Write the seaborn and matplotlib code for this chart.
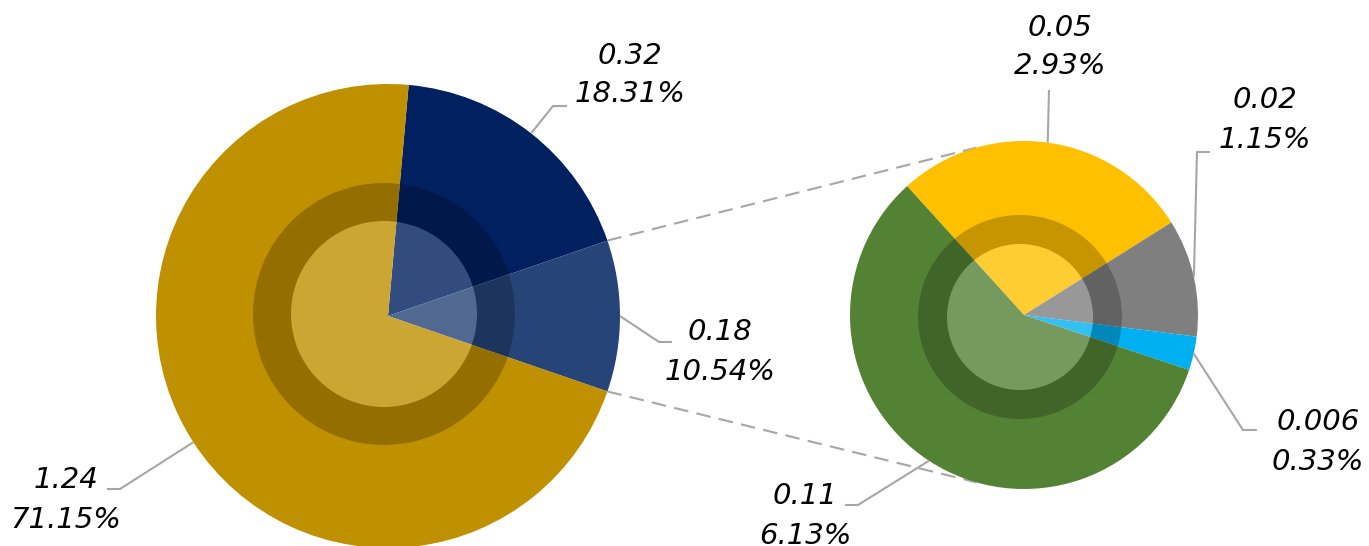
import numpy as np
import matplotlib
matplotlib.use("Agg")
import matplotlib.pyplot as plt
from matplotlib.patches import Wedge
import seaborn as sns

sns.set_theme(style="white")
plt.rcParams['font.family'] = ['DejaVu Sans']

# data
main_names = ["navy", "other", "gold"]
main_values = ["0.32", "0.18", "1.24"]
main_pct = [18.31, 10.54, 71.15]
main_colors = ["#002060", "#264478", "#BF9000"]

sub_names = ["yellow", "gray", "lightblue", "green"]
sub_values = ["0.05", "0.02", "0.006", "0.11"]
sub_pct = [2.93, 1.15, 0.33, 6.13]
sub_colors = ["#FFC000", "#7F7F7F", "#00B0F0", "#548235"]

W, H = 1369, 546
fig = plt.figure(figsize=(W / 100, H / 100), dpi=100)
ax = fig.add_axes([0, 0, 1, 1])

def fy(y):
    # picture rows -> data y (y up)
    return H - y

# geometry (pixels)
c1, r1 = (388, fy(316)), 232
c2, r2 = (1024, fy(315)), 174
ring1 = ((384, fy(314)), 131, 93)
ring2 = ((1020, fy(317)), 102, 73)

start1 = 360 * (main_pct[0] + main_pct[1] / 2) / 100
start2 = 132.2

ax.pie(main_pct, colors=main_colors, startangle=start1, counterclock=False,
       center=c1, radius=r1, wedgeprops=dict(linewidth=0))
ax.pie(sub_pct, colors=sub_colors, startangle=start2, counterclock=False,
       center=c2, radius=r2, wedgeprops=dict(linewidth=0))

# dark ring + light core overlays
for (cc, ro, ri) in [ring1, ring2]:
    ax.add_patch(Wedge(cc, ro, 0, 360, width=ro - ri, facecolor="black",
                       alpha=0.225, linewidth=0))
    ax.add_patch(Wedge(cc, ri, 0, 360, facecolor="white", alpha=0.2, linewidth=0))

# connector lines between pies
half = 360 * main_pct[1] / 100 / 2
for s in (1, -1):
    a1 = np.radians(s * half)
    a2 = np.radians(s * 106)
    ax.plot([c1[0] + r1 * np.cos(a1), c2[0] + r2 * np.cos(a2)],
            [c1[1] + r1 * np.sin(a1), c2[1] + r2 * np.sin(a2)],
            color="#A6A6A6", lw=1.5, ls=(0, (7, 4)), zorder=0.5)

def mid_angles(pcts, start):
    tot = sum(pcts)
    out, a = [], start
    for p in pcts:
        d = 360 * p / tot
        out.append(a - d / 2)
        a -= d
    return out

# label layout: elbow, end of leader, text centre (pixels)
main_layout = [((553, 106), (567, 106), (630, 75)),
               ((659, 342), (672, 342), (720, 352)),
               ((120, 489), (107, 489), (66, 500))]
sub_layout = [((1049, 90), (1049, 90), (1060, 47)),
              ((1197, 152), (1210, 152), (1265, 120)),
              ((1243, 430), (1257, 430), (1318, 442)),
              ((858, 505), (845, 505), (805, 516))]

def draw_labels(center, radius, pcts, start, values, layout):
    for ang, val, pct, (elb, end, txt) in zip(mid_angles(pcts, start), values, pcts, layout):
        a = np.radians(ang)
        x0, y0 = center[0] + radius * np.cos(a), center[1] + radius * np.sin(a)
        ax.plot([x0, elb[0], end[0]], [y0, fy(elb[1]), fy(end[1])],
                color="#A6A6A6", lw=1.5, zorder=3, solid_capstyle="butt")
        ax.text(txt[0], fy(txt[1]), f"{val}\n{pct:.2f}%", ha="center", va="center",
                fontsize=21, style="italic", color="black", linespacing=1.5)

draw_labels(c1, r1, main_pct, start1, main_values, main_layout)
draw_labels(c2, r2, sub_pct, start2, sub_values, sub_layout)

ax.set_xlim(0, W)
ax.set_ylim(0, H)
ax.set_aspect("equal")
ax.axis("off")

fig.savefig("out.png", dpi=100)
